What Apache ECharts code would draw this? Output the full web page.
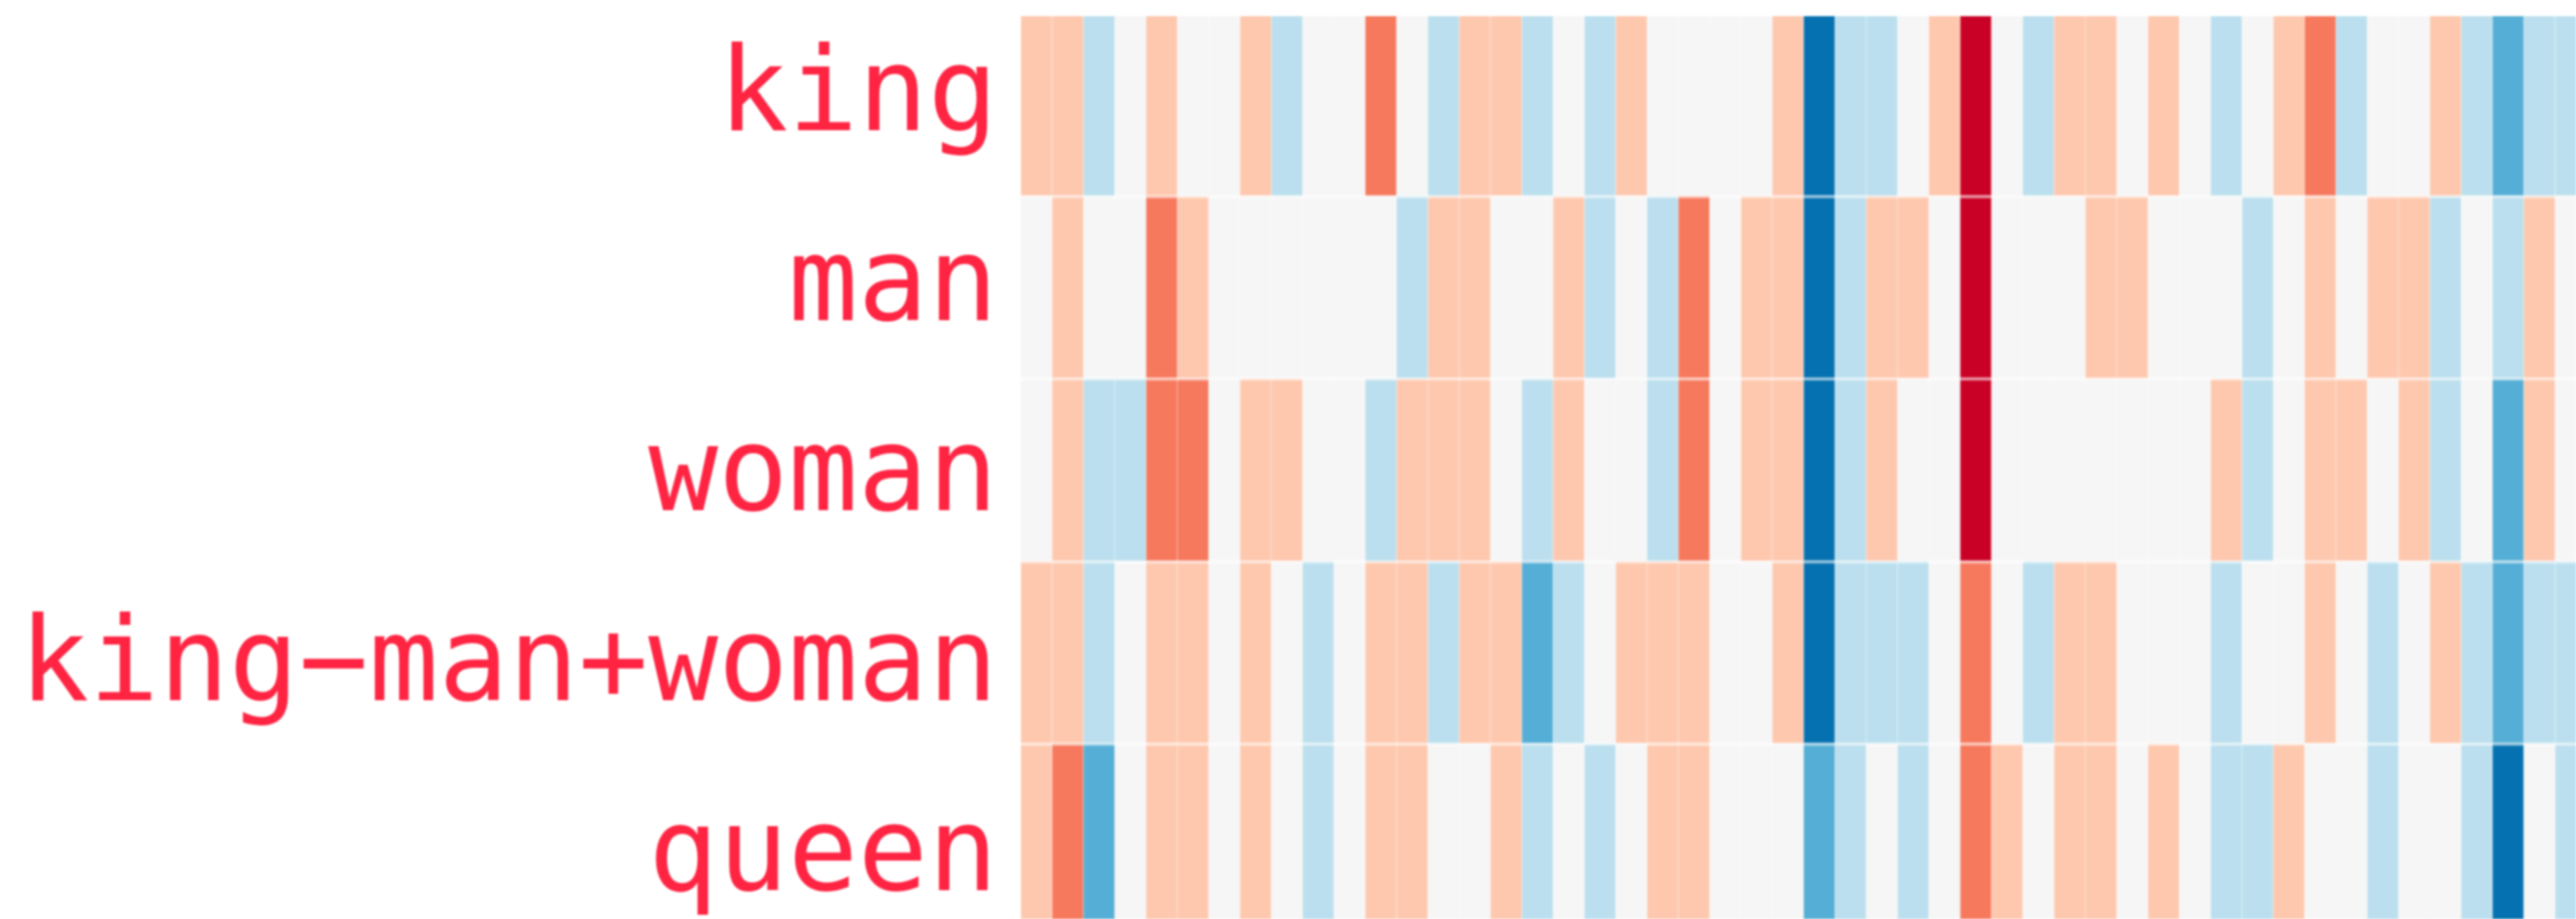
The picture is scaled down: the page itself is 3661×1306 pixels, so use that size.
<!DOCTYPE html>
<html><head><meta charset="utf-8">
<style>html,body{margin:0;padding:0;background:#fff;overflow:hidden}
#blur{width:3661px;height:1306px;filter:blur(1.8px);background:#fff}
#c{width:3661px;height:1306px;clip-path:inset(23px 0 0 0)}</style>
<script src="https://cdn.jsdelivr.net/npm/echarts@6/dist/echarts.min.js"></script>
</head><body><div id="blur"><div id="c"></div></div>
<script>
const words = ['king','man','woman','king−man+woman','queen'];
const king  = [1,1,-1,0,1,0,0,1,-1,0,0,2,0,-1,1,1,-1,0,-1,1,0,0,0,0,1,-3,-1,-1,0,1,3,0,-1,1,1,0,1,0,-1,0,1,2,-1,0,0,1,-1,-2,-1,-1];
const man   = [0,1,0,0,2,1,0,0,0,0,0,0,-1,1,1,0,0,1,-1,0,-1,2,0,1,1,-3,-1,1,1,0,3,0,0,0,1,1,0,0,0,-1,0,1,0,1,1,-1,0,-1,1,0];
const woman = [0,1,-1,-1,2,2,0,1,1,0,0,-1,1,1,1,0,-1,1,0,0,-1,2,0,1,1,-3,-1,1,0,0,3,0,0,0,0,0,0,0,1,-1,0,1,1,0,1,-1,0,-2,1,0];
const kingManWoman = [1,1,-1,0,1,1,0,1,0,-1,0,1,1,-1,1,1,-2,-1,0,1,1,1,0,0,1,-3,-1,-1,-1,0,2,0,-1,1,1,0,0,0,-1,0,0,1,0,-1,0,1,-1,-2,-1,-1];
const queen = [1,2,-2,0,1,1,0,1,0,-1,0,1,1,0,0,1,-1,0,-1,0,1,1,0,0,0,-2,-1,0,-1,0,2,1,0,1,1,0,1,0,-1,-1,1,0,0,-1,0,0,-1,-3,0,-1];
const rows = [king,man,woman,kingManWoman,queen];
const palette = ['#0571b0','#54aed5','#bbdfee','#f6f6f6','#fec8ae','#f6795d','#ca0126'];
const cols = king.map((_,i)=>String(i));
const cells = [];
rows.forEach((r,y)=>r.forEach((v,x)=>cells.push([x,y,v])));
const chart = echarts.init(document.getElementById('c'),null,{renderer:'canvas'});
chart.setOption({
  animation:false,
  backgroundColor:'#fff',
  grid:[
    {left:1451,top:19.7,width:2225,height:1297,outerBoundsMode:'none'},
    {left:1451,top:7,width:2225,height:1350,outerBoundsMode:'none'}
  ],
  xAxis:[
    {type:'category',gridIndex:0,data:cols,show:false},
    {type:'category',gridIndex:1,data:cols,show:false}
  ],
  yAxis:[
    {type:'category',gridIndex:0,data:words,inverse:true,z:6,axisLine:{show:false},axisTick:{show:false},axisLabel:{show:false},
     splitLine:{show:true,interval:0,showMinLine:false,showMaxLine:false,lineStyle:{color:'rgba(255,255,255,0.45)',width:5}}},
    {type:'category',gridIndex:1,data:words,inverse:true,axisLine:{show:false},axisTick:{show:false},splitLine:{show:false},
     axisLabel:{show:true,interval:0,margin:33,color:'#ff2442',fontFamily:'DejaVu Sans Mono',fontSize:165,align:'right'}}
  ],
  visualMap:{show:false,type:'continuous',min:-3,max:3,inRange:{color:palette},seriesIndex:0,calculable:false},
  series:[{type:'heatmap',xAxisIndex:0,yAxisIndex:0,data:cells,progressive:0,
    itemStyle:{borderWidth:2,borderColor:'rgba(255,255,255,0.25)'},label:{show:false},emphasis:{disabled:true}}],
  tooltip:{show:false}
});
</script></body></html>
